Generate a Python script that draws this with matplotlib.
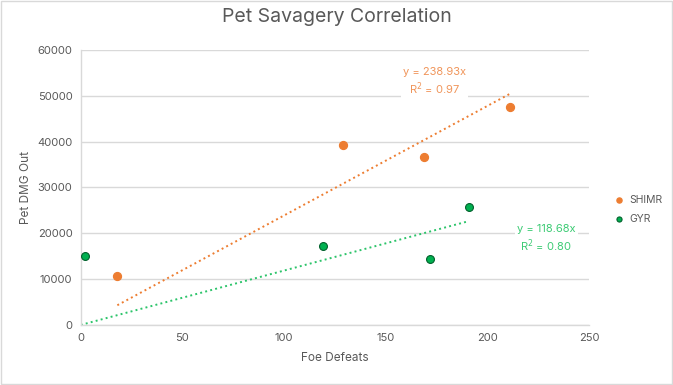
import numpy as np
import matplotlib
matplotlib.use("Agg")
import matplotlib.pyplot as plt
from matplotlib.patches import Rectangle

plt.rcParams['font.family'] = ['Inter', 'DejaVu Sans']

# data
shimr_x = [18, 129, 169, 211]
shimr_y = [10600, 39300, 36700, 47600]
gyr_x = [2, 119, 172, 191]
gyr_y = [15100, 17200, 14500, 25700]

# trendline (intercept at 0) as labelled
slopes = [238.93, 118.68]
r2 = [0.97, 0.80]

orange = '#ED7D31'
green = '#00B050'
gray = '#595959'

fig = plt.figure(figsize=(6.73, 3.85), dpi=100)
ax = fig.add_axes([0.12, 0.156, 0.755, 0.714])

ax.set_xlim(0, 250)
ax.set_ylim(0, 60000)
ax.set_xticks(np.arange(0, 251, 50))
ax.set_yticks(np.arange(0, 60001, 10000))
ax.grid(axis='y', color='#D9D9D9', lw=1)
ax.set_axisbelow(True)
for s in ['top', 'right']:
    ax.spines[s].set_visible(False)
for s in ['left', 'bottom']:
    ax.spines[s].set_color('#D9D9D9')
    ax.spines[s].set_linewidth(1)
ax.tick_params(length=0, colors=gray, labelsize=8, pad=6)

# trendlines
xs = np.array([min(shimr_x), max(shimr_x)])
ax.plot(xs, slopes[0] * xs, ls=':', color=orange, lw=1.4, zorder=2)
xg = np.array([0, max(gyr_x)])
ax.plot(xg, slopes[1] * xg, ls=':', color='#2CC46A', lw=1.4, zorder=2)

ax.scatter(shimr_x, shimr_y, s=32, color=orange, edgecolors=orange, zorder=3, label='SHIMR')
ax.scatter(gyr_x, gyr_y, s=32, color=green, edgecolors='#00602B', lw=0.8, zorder=3, label='GYR')

ax.text(174, 53000, 'y = %.2fx\nR$^2$ = %.2f' % (slopes[0], r2[0]), color='#F0955A',
        fontsize=8, ha='center', va='center', linespacing=1.3,
        bbox=dict(facecolor='white', edgecolor='none', pad=1.5), zorder=4)
ax.text(229, 18800, 'y = %.2fx\nR$^2$ = %.2f' % (slopes[1], r2[1]), color='#3CCB74',
        fontsize=8, ha='center', va='center', linespacing=1.3,
        bbox=dict(facecolor='white', edgecolor='none', pad=1.5), zorder=4)

ax.set_xlabel('Foe Defeats', color=gray, fontsize=8.5, labelpad=6)
ax.set_ylabel('Pet DMG Out', color=gray, fontsize=8.5, labelpad=4)
fig.suptitle('Pet Savagery Correlation', color=gray, fontsize=14, y=0.98)

leg = ax.legend(loc='center left', bbox_to_anchor=(1.02, 0.42), frameon=False,
                fontsize=7.5, handletextpad=0.0, labelspacing=0.9, markerscale=0.65,
                labelcolor=gray)

fig.patches.append(Rectangle((0.002, 0.003), 0.996, 0.994, transform=fig.transFigure,
                             fill=False, edgecolor='#D9D9D9', lw=1))

fig.savefig('out.png', dpi=100)
